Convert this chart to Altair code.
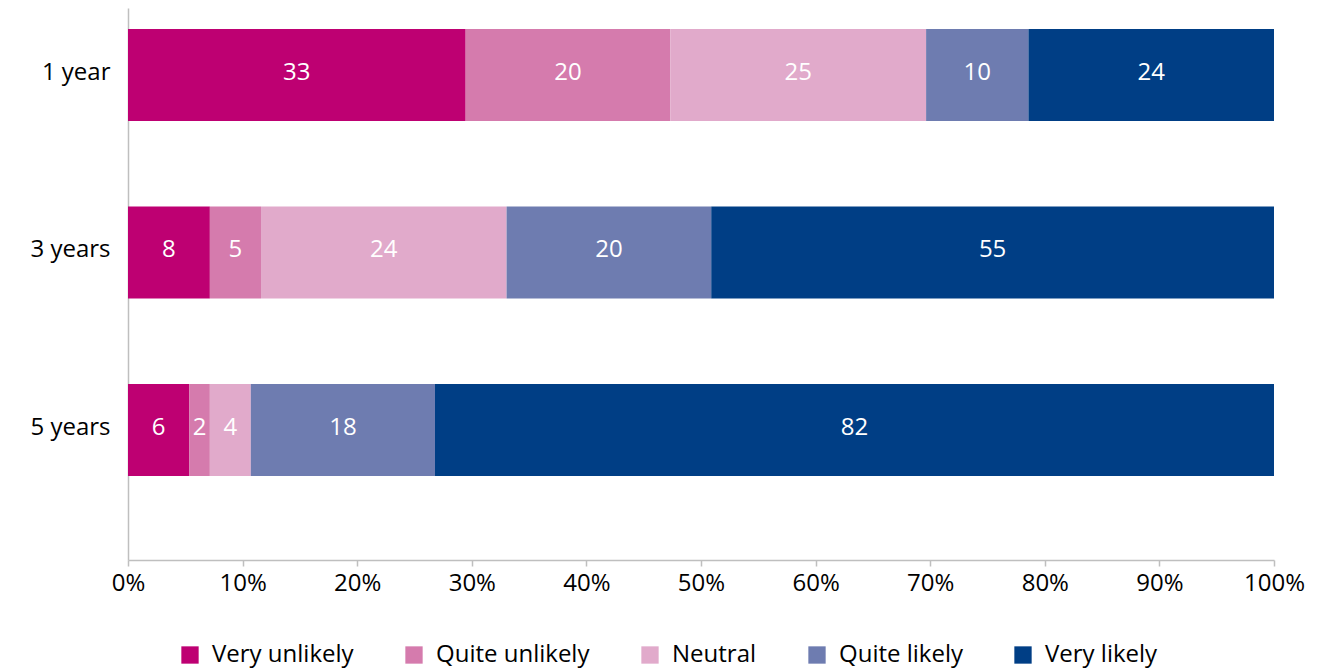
import altair as alt
import pandas as pd

periods = ["1 year", "3 years", "5 years"]
responses = ["Very unlikely", "Quite unlikely", "Neutral", "Quite likely", "Very likely"]
colors = ["#BE0072", "#D57BAD", "#E1AACB", "#6E7CB0", "#003E85"]
vals_1y = [33, 20, 25, 10, 24]
vals_3y = [8, 5, 24, 20, 55]
vals_5y = [6, 2, 4, 18, 82]
x_ticks = [0, 0.1, 0.2, 0.3, 0.4, 0.5, 0.6, 0.7, 0.8, 0.9, 1.0]

rows = []
for p, vals in zip(periods, [vals_1y, vals_3y, vals_5y]):
    for i, (r, v) in enumerate(zip(responses, vals)):
        rows.append({"period": p, "response": r, "order": i, "value": v})
df = pd.DataFrame(rows)

FONT = "Open Sans"
FS = 24

base = alt.Chart(df).transform_stack(
    stack="value", groupby=["period"], as_=["v0", "v1"],
    sort=[alt.SortField("order")], offset="normalize"
).transform_calculate(mid="(datum.v0 + datum.v1) / 2")

yenc = alt.Y("period:N", sort=periods, title=None,
             scale=alt.Scale(paddingInner=0.4817, paddingOuter=0.296, align=0.2),
             axis=alt.Axis(ticks=False, domainColor="#BFBFBF", domainWidth=1.5,
                           labelFontSize=FS, labelColor="#000000", labelFont=FONT,
                           labelPadding=18, labelOffset=-2))

bars = base.mark_bar(strokeWidth=0).encode(
    x=alt.X("v0:Q", title=None,
            scale=alt.Scale(domain=[0, 1], nice=False),
            axis=alt.Axis(values=x_ticks, format=".0%", grid=False,
                          domainColor="#BFBFBF", domainWidth=1.5,
                          tickColor="#BFBFBF", tickSize=6, tickWidth=1.5,
                          labelFontSize=FS, labelColor="#000000", labelFont=FONT,
                          labelPadding=5, labelFlush=False)),
    x2="v1:Q",
    y=yenc,
    color=alt.Color("response:N", sort=responses,
                    scale=alt.Scale(domain=responses, range=colors),
                    legend=alt.Legend(title=None, orient="none", direction="horizontal",
                                      legendX=50, legendY=635,
                                      symbolType="square", symbolSize=300,
                                      symbolStrokeWidth=0,
                                      labelFontSize=FS, labelFont=FONT, labelColor="#000000",
                                      labelOffset=10, columnPadding=48, padding=0)),
    order=alt.Order("order:Q"),
)

labels = base.mark_text(color="white", fontSize=FS, font=FONT, baseline="middle", dy=-2).encode(
    x="mid:Q",
    y=alt.Y("period:N", sort=periods),
    text="value:Q",
)

chart = alt.layer(bars, labels).properties(
    width=1146, height=552,
    padding={"left": 120, "top": 0, "right": 60, "bottom": 110},
    autosize=alt.AutoSizeParams(type="none"),
).configure(font=FONT).configure_view(strokeWidth=0)

chart.save("out.html", embed_options={"renderer": "svg", "actions": False})
